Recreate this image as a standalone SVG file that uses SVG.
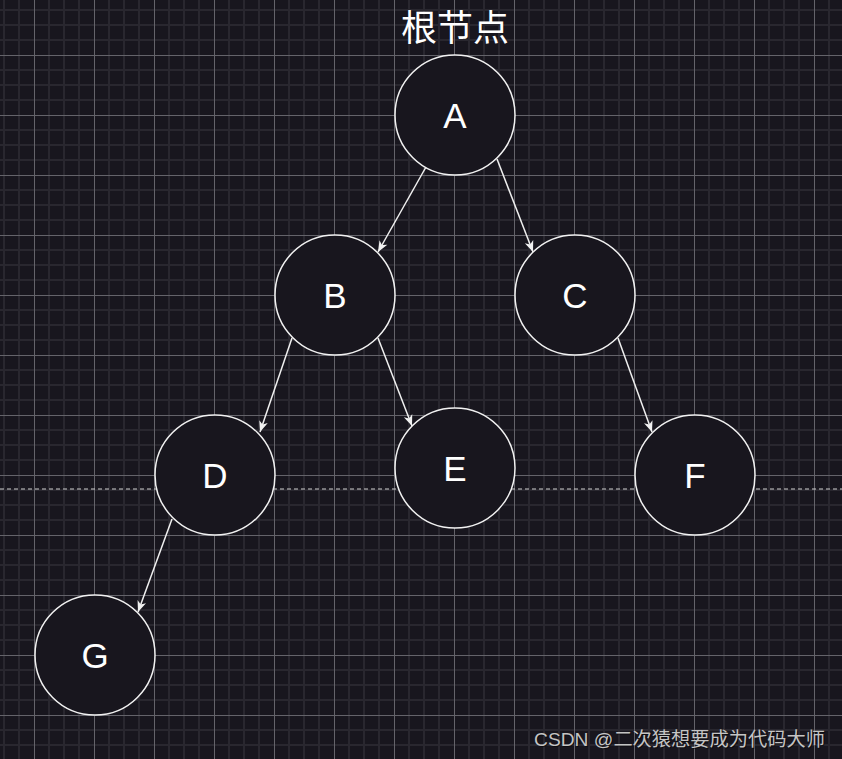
<svg xmlns="http://www.w3.org/2000/svg" width="842" height="759" viewBox="0 0 842 759">
  <defs>
    <pattern id="grid" x="34" y="55" width="60" height="60" patternUnits="userSpaceOnUse">
      <path d="M15,0V60M30,0V60M45,0V60M0,15H60M0,30H60M0,45H60" stroke="#29272f" stroke-width="2" fill="none"/>
      <path d="M0.5,0V60M0,0.5H60" stroke="#64636a" stroke-width="1" fill="none"/>
    </pattern>
    <marker id="arrow" markerUnits="userSpaceOnUse" markerWidth="14" markerHeight="12" viewBox="-12 -6 14 12" refX="0" refY="0" orient="auto">
      <path d="M0,0 L-11,-4.5 L-8,0 L-11,4.5 Z" fill="#f0f0f0"/>
    </marker>
    <style>
      .node circle { fill: #18161e; stroke: #f2f2f2; stroke-width: 1.5; }
      .node text { font-family: "Liberation Sans", Arial, sans-serif; font-size: 35px; fill: #ffffff; text-anchor: middle; }
      .edge { stroke: #f0f0f0; stroke-width: 1.5; fill: none; marker-end: url(#arrow); }
      .wm { font-family: "Liberation Sans", "Noto Sans CJK SC", sans-serif; font-size: 19px; }
    </style>
  </defs>
  <rect width="842" height="759" fill="#18161e"/>
  <rect width="842" height="759" fill="url(#grid)"/>
  <line x1="0" y1="489" x2="842" y2="489" stroke="#d0d0d0" stroke-width="1.2" stroke-dasharray="4 3"/>
  <text x="455" y="41" font-family="'Noto Sans CJK SC', sans-serif" font-size="36" fill="#ffffff" text-anchor="middle">根节点</text>
  <g id="connectors">
    <line class="edge" x1="426" y1="167" x2="378" y2="252"/>
    <line class="edge" x1="497" y1="159" x2="533" y2="252"/>
    <line class="edge" x1="292" y1="338" x2="260" y2="432"/>
    <line class="edge" x1="378" y1="338" x2="412" y2="426"/>
    <line class="edge" x1="618" y1="338" x2="652" y2="432"/>
    <line class="edge" x1="172" y1="519" x2="138" y2="612"/>
  </g>
  <g id="node-A" class="node"><circle cx="455" cy="115" r="60"/><text x="455" y="128">A</text></g>
  <g id="node-B" class="node"><circle cx="335" cy="295" r="60"/><text x="335" y="308">B</text></g>
  <g id="node-C" class="node"><circle cx="575" cy="295" r="60"/><text x="575" y="308">C</text></g>
  <g id="node-D" class="node"><circle cx="215" cy="475" r="60"/><text x="215" y="488">D</text></g>
  <g id="node-E" class="node"><circle cx="455" cy="468" r="60"/><text x="455" y="481">E</text></g>
  <g id="node-F" class="node"><circle cx="695" cy="475" r="60"/><text x="695" y="488">F</text></g>
  <g id="node-G" class="node"><circle cx="95" cy="655" r="60"/><text x="95" y="668">G</text></g>
  <text class="wm" x="535" y="747" textLength="291" lengthAdjust="spacingAndGlyphs" fill="#000000" fill-opacity="0.5">CSDN @二次猿想要成为代码大师</text>
  <text class="wm" x="534" y="746" textLength="291" lengthAdjust="spacingAndGlyphs" fill="#c4c4c4">CSDN @二次猿想要成为代码大师</text>
</svg>
